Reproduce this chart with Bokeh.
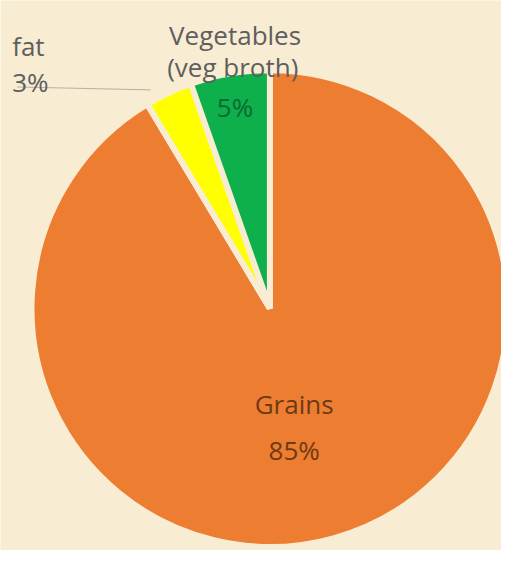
import numpy as np
from bokeh.plotting import figure
from bokeh.models import Range1d
from bokeh.core.properties import value
from bokeh.embed import file_html
from bokeh.resources import INLINE

# ---- data ----
categories = ["Grains", "fat", "Vegetables"]
values = [85, 3, 5]
pct_labels = ["85%", "3%", "5%"]
colors = ["#ED7D31", "#FFFF00", "#0DB04B"]

# ---- layout (reference pixel space, y downward -> converted) ----
W, H = 517, 566
BG = "#F8ECD3"
FONT = "Open Sans"
cx, cy, r = 278, 317, 246

def Y(y):
    return H - y

p = figure(width=501, height=550, x_range=Range1d(0, W), y_range=Range1d(0, H),
           output_backend="svg", toolbar_location=None, min_border=0)
p.axis.visible = False
p.grid.visible = False
p.outline_line_color = None
p.background_fill_color = BG
p.border_fill_color = BG

total = float(sum(values))
fr = np.array(values) / total
ends = np.cumsum(fr) * 2 * np.pi
starts = np.concatenate([[0.0], ends[:-1]])
start_ang = np.pi / 2 - starts
end_ang = np.pi / 2 - ends

p.wedge(x=[cx] * len(values), y=[Y(cy)] * len(values), radius=r,
        start_angle=list(start_ang), end_angle=list(end_ang), direction="clock",
        fill_color=colors, line_color=BG, line_width=6)

# leader line for fat
p.line(x=[17, 155], y=[Y(89), Y(92)], line_color="#B5B0A6", line_width=1)

fs = "26px"
gray = "#5E5E5E"
p.text(x=[12], y=[Y(47)], text=[categories[1]], text_font=value(FONT),
       text_font_size=fs, text_color=gray, text_baseline="alphabetic")
p.text(x=[12], y=[Y(84)], text=[pct_labels[1]], text_font=value(FONT),
       text_font_size=fs, text_color=gray, text_baseline="alphabetic")
p.text(x=[174], y=[Y(35)], text=[categories[2]], text_font=value(FONT),
       text_font_size=fs, text_color=gray, text_baseline="alphabetic")
p.text(x=[172], y=[Y(68)], text=["(veg broth)"], text_font=value(FONT),
       text_font_size=fs, text_color=gray, text_baseline="alphabetic")
p.text(x=[242], y=[Y(110)], text=[pct_labels[2]], text_font=value(FONT),
       text_font_size=fs, text_color="#0B6A33", text_align="center",
       text_baseline="alphabetic")
p.text(x=[303], y=[Y(415)], text=[categories[0]], text_font=value(FONT),
       text_font_size=fs, text_color="#6E3A14", text_align="center",
       text_baseline="alphabetic")
p.text(x=[303], y=[Y(463)], text=[pct_labels[0]], text_font=value(FONT),
       text_font_size=fs, text_color="#6E3A14", text_align="center",
       text_baseline="alphabetic")

open("out.html", "w").write(file_html(p, INLINE))
